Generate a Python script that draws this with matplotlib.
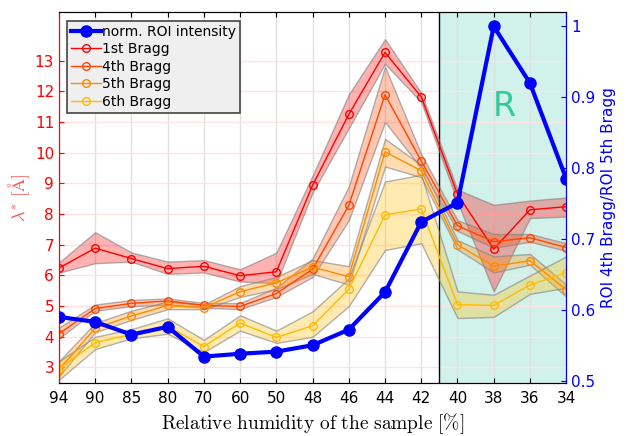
import matplotlib
matplotlib.use("Agg")
import matplotlib.pyplot as plt
from matplotlib.ticker import FuncFormatter
import numpy as np

plt.rcParams['mathtext.fontset'] = 'cm'

# relative humidity steps (categorical x axis)
rh = ['94', '90', '85', '80', '70', '60', '50', '48', '46', '44', '42', '40', '38', '36', '34']

# lambda* [A] of the Bragg peaks
bragg1 = [6.24, 6.89, 6.55, 6.22, 6.30, 5.99, 6.12, 8.94, 11.25, 13.27, 11.82, 8.65, 6.86, 8.14, 8.24]
bragg1_lo = [6.09, 6.40, 6.45, 6.05, 6.10, 5.80, 5.75, 8.70, 10.80, 12.90, 11.65, 8.40, 5.48, 7.87, 7.92]
bragg1_hi = [6.42, 7.41, 6.75, 6.45, 6.50, 6.20, 6.74, 9.25, 11.90, 13.70, 11.95, 8.80, 8.30, 8.44, 8.54]

bragg4 = [4.10, 4.92, 5.09, 5.17, 5.02, 4.99, 5.41, 6.20, 8.28, 11.89, 9.73, 7.62, 7.10, 7.23, 6.91]
bragg4_lo = [3.95, 4.85, 5.00, 5.05, 4.95, 4.90, 5.30, 5.95, 7.80, 11.00, 9.50, 7.45, 6.90, 7.10, 6.80]
bragg4_hi = [4.30, 5.05, 5.20, 5.25, 5.10, 5.10, 5.60, 6.55, 8.90, 12.80, 9.95, 7.80, 7.35, 7.35, 7.05]

bragg5 = [2.93, 4.28, 4.68, 5.02, 4.95, 5.47, 5.76, 6.27, 5.96, 10.03, 9.41, 7.00, 6.30, 6.48, 5.54]
bragg5_lo = [2.70, 4.15, 4.55, 4.90, 4.90, 5.30, 5.55, 6.05, 5.70, 9.55, 9.20, 6.85, 6.10, 6.35, 5.31]
bragg5_hi = [3.20, 4.45, 4.85, 5.15, 5.05, 5.65, 5.95, 6.50, 6.30, 10.45, 9.60, 7.15, 6.62, 6.70, 5.70]

bragg6 = [2.95, 3.81, 4.08, 4.35, 3.68, 4.45, 3.98, 4.36, 5.55, 7.97, 8.17, 5.05, 5.02, 5.69, 6.09]
bragg6_lo = [2.60, 3.60, 3.95, 4.10, 3.50, 4.20, 3.80, 4.00, 5.00, 6.83, 7.05, 4.61, 4.65, 5.40, 5.60]
bragg6_hi = [3.20, 4.00, 4.25, 4.60, 3.90, 4.70, 4.20, 4.83, 5.90, 9.06, 9.28, 5.48, 5.37, 6.00, 6.62]

# normalised ROI intensity ratio (right axis)
roi = [0.590, 0.583, 0.565, 0.576, 0.534, 0.538, 0.541, 0.550, 0.572, 0.625, 0.724, 0.751, 1.000, 0.920, 0.785]

x = np.arange(len(rh))

fig = plt.figure(figsize=(6.27, 4.36), dpi=100)
ax = fig.add_axes([0.094, 0.122, 0.809, 0.850])
ax2 = ax.twinx()

# shaded region R
ax.axvspan(10.5, 14, color='#1abc9c', alpha=0.2, lw=0, zorder=0)
ax.axvline(10.5, color='black', lw=1, zorder=1)
ax.text(12.3, 11.5, 'R', color='#2ecc9a', fontsize=24, ha='center', va='center')

series = [
    (bragg1, bragg1_lo, bragg1_hi, '#ff0000', '1st Bragg'),
    (bragg4, bragg4_lo, bragg4_hi, '#ff4500', '4th Bragg'),
    (bragg5, bragg5_lo, bragg5_hi, '#ff8c00', '5th Bragg'),
    (bragg6, bragg6_lo, bragg6_hi, '#ffbb00', '6th Bragg'),
]
handles = []
for vals, lo, hi, col, lab in series:
    ax.fill_between(x, lo, hi, facecolor=matplotlib.colors.to_rgba(col, 0.3),
                    edgecolor=(0.5, 0.5, 0.5, 0.6), lw=1, zorder=2)
    h, = ax.plot(x, vals, '-o', color=col, lw=1, ms=5.5, mfc='none', mew=1, label=lab, zorder=3)
    handles.append(h)

hb, = ax2.plot(x, roi, '-o', color='blue', lw=3, ms=8, label='norm. ROI intensity', zorder=5)

ax.set_xlim(0, 14)
ax.set_ylim(2.5, 14.58)
ax2.set_ylim(0.497, 1.02)

ax.set_xticks(x)
ax.set_xticklabels(rh)
ax.set_yticks(range(3, 14))
ax2.set_yticks([0.5, 0.6, 0.7, 0.8, 0.9, 1.0])
ax2.yaxis.set_major_formatter(FuncFormatter(lambda v, p: '%g' % v))

ax.grid(axis='x', color='#e0e0e0', lw=1)
ax.grid(axis='y', color='#ffe2e2', lw=1)
ax.set_axisbelow(True)

ax.tick_params(axis='x', direction='in', labelsize=11, top=True, pad=6)
ax.tick_params(axis='y', direction='in', colors='red', labelsize=11)
ax2.tick_params(axis='y', direction='in', colors='blue', labelsize=11)
ax.spines['left'].set_color('red')
ax2.spines['left'].set_color('red')
ax2.spines['right'].set_color('blue')

ax.set_xlabel(r'$\mathrm{Relative\ humidity\ of\ the\ sample\ [\%]}$', fontsize=14)
ax.set_ylabel(r'$\lambda^{*}\ [\mathrm{\AA}]$', color='#ff5555', fontsize=13, labelpad=2)
ax2.set_ylabel('ROI 4th Bragg/ROI 5th Bragg', color='blue', fontsize=11)

leg = ax2.legend([hb] + handles, [hb.get_label()] + [h.get_label() for h in handles],
                 loc='upper left', fontsize=10, fancybox=False, framealpha=1,
                 facecolor='#efefef', edgecolor='#444444', handlelength=2.1,
                 handletextpad=0.1, labelspacing=0.25, borderpad=0.3,
                 borderaxespad=0.6)
leg.get_frame().set_linewidth(1.2)

fig.savefig('out.png', dpi=100)
